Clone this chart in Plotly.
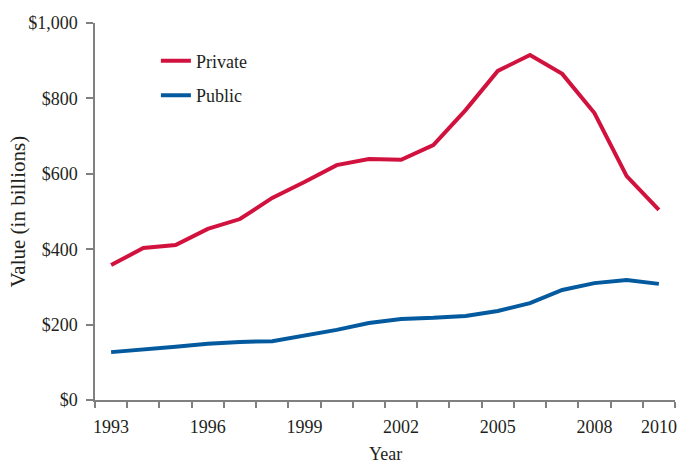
import plotly.graph_objects as go

years = list(range(1993, 2011))
private = [358, 403, 411, 454, 480, 536, 578, 623, 639, 637, 676, 769, 873, 915, 865, 761, 594, 504]
public = [127, 133, 141, 149, 154, 156, 170, 186, 204, 215, 218, 223, 236, 257, 292, 310, 318, 308]
x_labels = [1993, 1996, 1999, 2002, 2005, 2008, 2010]
y_ticks = [0, 200, 400, 600, 800, 1000]
y_labels = ["$0", "$200", "$400", "$600", "$800", "$1,000"]

RED = "#D2123E"
BLUE = "#045A9E"
AXIS = "#808080"
TXT = "#231F20"
FONT = "Liberation Serif"

fig = go.Figure()
fig.add_trace(go.Scatter(x=years, y=private, mode="lines", name="Private",
                         line=dict(color=RED, width=4), legendgroup="a"))
fig.add_trace(go.Scatter(x=years, y=public, mode="lines", name="Public",
                         line=dict(color=BLUE, width=4), legendgroup="b"))

fig.update_layout(
    width=681, height=464,
    margin=dict(l=95, r=6, t=23, b=64),
    paper_bgcolor="white", plot_bgcolor="white",
    font=dict(family=FONT, color=TXT, size=18),
    showlegend=True,
    legend=dict(x=0.105, y=0.948, xanchor="left", yanchor="top",
                font=dict(family=FONT, size=18, color=TXT),
                tracegroupgap=8, bgcolor="rgba(0,0,0,0)", itemwidth=30),
    xaxis=dict(range=[1992.5, 2010.5], tickvals=x_labels, ticktext=[str(v) for v in x_labels],
               ticks="", showgrid=False, zeroline=False, showline=True,
               linecolor=AXIS, linewidth=1.5, ticklabelstandoff=10,
               tickfont=dict(family=FONT, size=18, color=TXT),
               automargin=False,
               minor=dict(ticks="outside", tick0=1992.5, dtick=1, ticklen=6, tickcolor=AXIS, tickwidth=1.5)),
    yaxis=dict(range=[0, 1000], tickvals=y_ticks, ticktext=y_labels,
               ticks="outside", ticklen=7, tickcolor=AXIS, tickwidth=1.5,
               showgrid=False, zeroline=False, showline=True,
               linecolor=AXIS, linewidth=1.5, ticklabelstandoff=5,
               tickfont=dict(family=FONT, size=18, color=TXT),
               automargin=False),
    annotations=[
        dict(text="Year", xref="paper", yref="paper", x=0.5, y=-0.142,
             xanchor="center", yanchor="middle", showarrow=False,
             font=dict(family=FONT, size=18, color=TXT)),
        dict(text="Value (in billions)", xref="paper", yref="paper", x=-0.1328, y=0.5,
             xanchor="center", yanchor="middle", textangle=-90, showarrow=False,
             font=dict(family=FONT, size=21, color=TXT)),
    ],
)

fig.write_html("out.html", config={"displayModeBar": False},
               post_script="document.body.style.margin='0';")
